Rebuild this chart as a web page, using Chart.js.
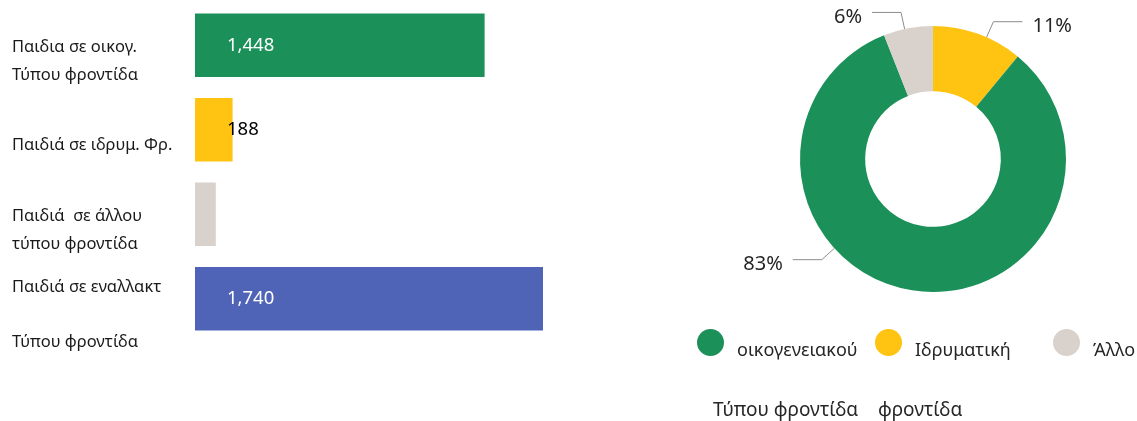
<!DOCTYPE html>
<html>
<head>
<meta charset="utf-8">
<script src="https://cdn.jsdelivr.net/npm/chart.js@4"></script>
<style>
  html, body { margin: 0; padding: 0; background: #fff; overflow: hidden; }
  body { position: relative; width: 1137px; height: 421px; font-family: "Noto Sans", sans-serif; color: #262626; }
  .panel { position: absolute; top: 0; height: 421px; }
  #barPanel { left: 0; width: 560px; }
  #ringPanel { left: 690px; width: 447px; }
  #ringLegend { position: absolute; left: 697px; top: 329px; white-space: nowrap; font-size: 18px; }
  .legend-item { display: inline-flex; width: 178px; vertical-align: top; }
  .legend-item i { flex: none; width: 27px; height: 27px; border-radius: 50%; }
  .legend-item span { margin-left: 13px; padding-top: 7px; line-height: 27px; }
  #ringNote { position: absolute; left: 713px; top: 396px; font-size: 19px; line-height: 27px; white-space: pre; }
</style>
</head>
<body>
<div class="panel" id="barPanel"><canvas id="careBars"></canvas></div>
<div class="panel" id="ringPanel"><canvas id="careRing"></canvas></div>
<div id="ringLegend"></div>
<div id="ringNote"></div>
<script>
// children by type of care
const barCategories = [
  ['Παιδια σε οικογ.', 'Τύπου φροντίδα'],
  'Παιδιά σε ιδρυμ. Φρ.',
  ['Παιδιά  σε άλλου', 'τύπου φροντίδα'],
  ['Παιδιά σε εναλλακτ', '', 'Τύπου φροντίδα']
]
const barValues = [1448, 188, 104, 1740]
const barColors = ['#1b9159', '#ffc312', '#d9d2cc', '#5064b7']
const barValueColors = ['#ffffff', '#000000', null, '#ffffff'] // null = value not printed

// share of each care type, legend order
const ringLabels = ['οικογενειακού', 'Ιδρυματική', 'Άλλο']
const ringShares = [83, 11, 6]
const ringColors = ['#1b9159', '#ffc312', '#d9d2cc']
const ringOrder = [1, 0, 2] // clockwise from 12 o'clock
const ringFootnote = 'Τύπου φροντίδα    φροντίδα'

const FONT = '"Noto Sans", sans-serif'
const TEXT = '#262626'

// value printed just inside the start of each bar
const barValueLabels = {
    id: 'barValueLabels',
    afterDatasetsDraw(chart) {
        const ctx = chart.ctx
        const meta = chart.getDatasetMeta(0)
        ctx.save()
        ctx.font = '18.5px ' + FONT
        ctx.textAlign = 'left'
        ctx.textBaseline = 'middle'
        meta.data.forEach((bar, i) => {
            if (!barValueColors[i]) return
            ctx.fillStyle = barValueColors[i]
            ctx.fillText(barValues[i].toLocaleString('en-US'), bar.base + 32, bar.y)
        })
        ctx.restore()
    }
}

// percentage callouts with elbow leader lines
const calloutAt = { 'οικογενειακού': 0.63, 'Ιδρυματική': 0.6, 'Άλλο': 0.43 }
const ringCallouts = {
    id: 'ringCallouts',
    afterDatasetsDraw(chart) {
        const ctx = chart.ctx
        const meta = chart.getDatasetMeta(0)
        const data = chart.data.datasets[0].data
        ctx.save()
        ctx.font = '20px ' + FONT
        ctx.textBaseline = 'middle'
        ctx.lineWidth = 1
        meta.data.forEach((arc, i) => {
            const { x, y, startAngle, endAngle, outerRadius } =
                arc.getProps(['x', 'y', 'startAngle', 'endAngle', 'outerRadius'], true)
            const a = startAngle + (endAngle - startAngle) * calloutAt[chart.data.labels[i]]
            const ax = x + Math.cos(a) * outerRadius
            const ay = y + Math.sin(a) * outerRadius
            const ex = x + Math.cos(a) * (outerRadius + 17)
            const ey = y + Math.sin(a) * (outerRadius + 17)
            const side = Math.cos(a) >= 0 ? 1 : -1
            const hx = ex + side * 29
            ctx.strokeStyle = '#8c8c8c'
            ctx.beginPath()
            ctx.moveTo(ax, ay)
            ctx.lineTo(ex, ey)
            ctx.lineTo(hx, ey)
            ctx.stroke()
            ctx.fillStyle = TEXT
            ctx.textAlign = side > 0 ? 'left' : 'right'
            ctx.fillText(data[i] + '%', hx + side * 10, ey + 5)
        })
        ctx.restore()
    }
}

new Chart(document.getElementById('careBars'), {
    type: 'bar',
    data: {
        labels: barCategories,
        datasets: [{
            data: barValues,
            backgroundColor: barColors,
            borderWidth: 0,
            categoryPercentage: 0.75,
            barPercentage: 1
        }]
    },
    options: {
        indexAxis: 'y',
        responsive: true,
        maintainAspectRatio: false,
        animation: false,
        layout: { padding: { left: 12, top: 3, bottom: 80, right: 0 } },
        plugins: { legend: { display: false }, tooltip: { enabled: false } },
        scales: {
            x: { display: false, min: 0, max: 1825 },
            y: {
                grid: { display: false },
                border: { display: false },
                ticks: {
                    crossAlign: 'far',
                    labelOffset: 16,
                    autoSkip: false,
                    color: '#1a1a1a',
                    font: { family: FONT, size: 16.5, lineHeight: 1.65 }
                },
                afterFit(scale) {
                    scale.width = 183
                    scale.paddingTop = 0
                    scale.paddingBottom = 0
                }
            }
        }
    },
    plugins: [barValueLabels]
})

new Chart(document.getElementById('careRing'), {
    type: 'doughnut',
    data: {
        labels: ringOrder.map(i => ringLabels[i]),
        datasets: [{
            data: ringOrder.map(i => ringShares[i]),
            backgroundColor: ringOrder.map(i => ringColors[i]),
            borderWidth: 0
        }]
    },
    options: {
        responsive: true,
        maintainAspectRatio: false,
        animation: false,
        radius: 133,
        cutout: '51%',
        layout: { padding: { left: 39, right: 0, top: 0, bottom: 103 } },
        plugins: {
            tooltip: { enabled: false },
            legend: { display: false }
        }
    },
    plugins: [ringCallouts]
})

// legend in fixed-width columns, footnote underneath
const legendBox = document.getElementById('ringLegend')
ringLabels.forEach((label, i) => {
    const item = document.createElement('span')
    item.className = 'legend-item'
    const dot = document.createElement('i')
    dot.style.background = ringColors[i]
    const text = document.createElement('span')
    text.textContent = label
    item.append(dot, text)
    legendBox.appendChild(item)
})
document.getElementById('ringNote').textContent = ringFootnote
</script>
</body>
</html>
